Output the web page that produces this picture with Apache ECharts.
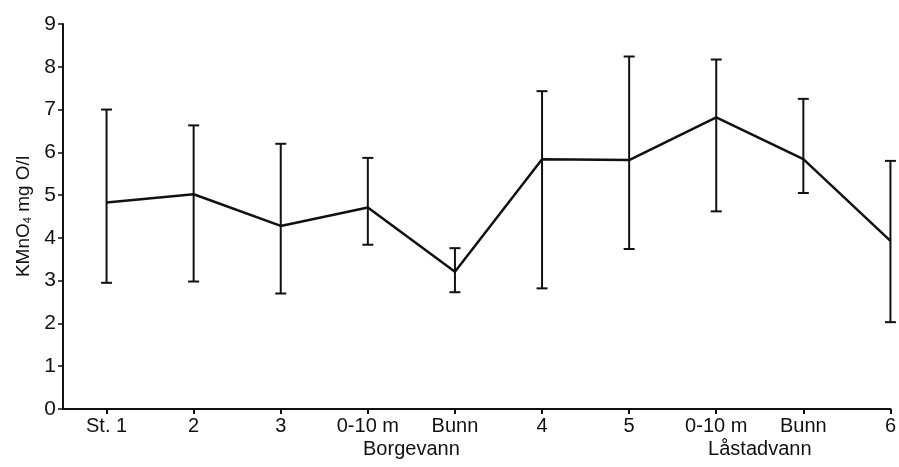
<!DOCTYPE html>
<html>
<head>
<meta charset="utf-8">
<script src="https://cdn.jsdelivr.net/npm/echarts@6/dist/echarts.min.js"></script>
<style>html,body{margin:0;padding:0;background:#fff;}#c{width:899px;height:467px;}</style>
</head>
<body>
<div id="c"></div>
<script>
const categories = ['St. 1', '2', '3', '0-10 m', 'Bunn', '4', '5', '0-10 m', 'Bunn', '6'];
const groupLabels = ['Borgevann', 'Låstadvann'];
const groupPositions = [3.5, 7.5];
const means = [4.83, 5.02, 4.28, 4.71, 3.21, 5.84, 5.82, 6.82, 5.84, 3.93];
const upper = [7.0, 6.63, 6.2, 5.87, 3.76, 7.43, 8.24, 8.17, 7.25, 5.8];
const lower = [2.95, 2.98, 2.7, 3.84, 2.73, 2.82, 3.74, 4.62, 5.05, 2.03];
const yTicks = [0, 1, 2, 3, 4, 5, 6, 7, 8, 9];

const idx = categories.map((_, i) => i);
const font = 'Liberation Sans, Arial, Helvetica, sans-serif';

const chart = echarts.init(document.getElementById('c'));
chart.setOption({
  animation: false,
  backgroundColor: '#fff',
  grid: { left: 63, right: 7, top: 24, bottom: 58 },
  xAxis: [{
    type: 'value', min: -0.5, max: 9,
    axisLine: { onZero: false, lineStyle: { color: '#111', width: 2 } },
    axisTick: { show: true, length: 5, customValues: idx, lineStyle: { color: '#111', width: 2 } },
    axisLabel: { customValues: idx, formatter: v => categories[Math.round(v)], color: '#111', fontSize: 20, fontFamily: font, margin: 7 },
    splitLine: { show: false }
  }, {
    type: 'value', min: -0.5, max: 9, position: 'bottom', offset: 23,
    axisLine: { show: false }, axisTick: { show: false },
    axisLabel: { customValues: groupPositions, formatter: v => groupLabels[groupPositions.indexOf(v)], color: '#111', fontSize: 20, fontFamily: font, margin: 7 },
    splitLine: { show: false }
  }],
  yAxis: {
    type: 'value', min: 0, max: 9, interval: 1,
    axisLine: { show: true, onZero: false, lineStyle: { color: '#111', width: 2 } },
    axisTick: { show: true, length: 5, customValues: yTicks, lineStyle: { color: '#111', width: 1.5 } },
    axisLabel: { customValues: yTicks, color: '#111', fontSize: 21, fontFamily: font, margin: 7 },
    splitLine: { show: false },
    name: '{a|KMnO}{s|4}{a| mg O/l}',
    nameLocation: 'middle', nameGap: 29, nameRotate: 90,
    nameTextStyle: {
      rich: {
        a: { fontSize: 19, fontFamily: font, color: '#111' },
        s: { fontSize: 11, fontFamily: font, color: '#111', verticalAlign: 'bottom', padding: [9, 0, 0, 0] }
      }
    }
  },
  series: [{
    type: 'custom',
    xAxisIndex: 0,
    data: idx.map(i => [i, lower[i], upper[i]]),
    renderItem: function (params, api) {
      const x = api.value(0);
      const lo = api.coord([x, api.value(1)]);
      const hi = api.coord([x, api.value(2)]);
      const hw = 5.5;
      const st = { stroke: '#111', lineWidth: 2 };
      return {
        type: 'group',
        children: [
          { type: 'line', shape: { x1: lo[0], y1: lo[1], x2: hi[0], y2: hi[1] }, style: st },
          { type: 'line', shape: { x1: hi[0] - hw, y1: hi[1], x2: hi[0] + hw, y2: hi[1] }, style: st },
          { type: 'line', shape: { x1: lo[0] - hw, y1: lo[1], x2: lo[0] + hw, y2: lo[1] }, style: st }
        ]
      };
    },
    z: 2
  }, {
    type: 'line',
    xAxisIndex: 0,
    data: idx.map(i => [i, means[i]]),
    showSymbol: false,
    lineStyle: { color: '#111', width: 2.5 },
    z: 3
  }]
});
</script>
</body>
</html>
